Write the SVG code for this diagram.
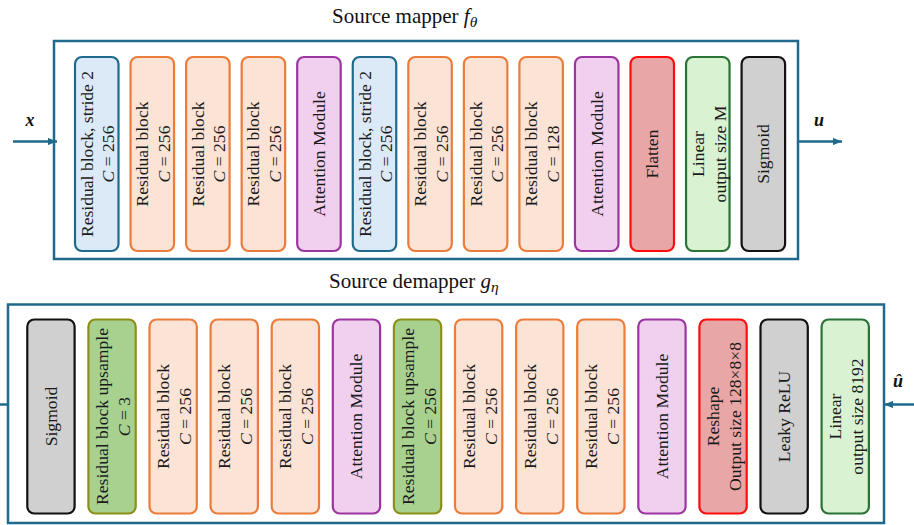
<svg xmlns="http://www.w3.org/2000/svg" width="914" height="525" viewBox="0 0 914 525">
<style>
.frame{fill:#fff;stroke:#1f6a8c;stroke-width:2.5}
.blk{stroke-width:2.2}
.blue{fill:#dce9f6;stroke:#1f6a8c}
.org{fill:#fbe3d5;stroke:#ec7c3a}
.pur{fill:#f1d0ef;stroke:#9c35a0}
.red{fill:#e8a6a6;stroke:#ff0d0d}
.lin{fill:#d9f2d1;stroke:#2a7236}
.gry{fill:#d0d0d0;stroke:#111}
.up{fill:#a8d190;stroke:#8e8f19}
.t{font-family:"Liberation Serif","Times New Roman",serif;font-size:17.6px;fill:#1a1a1a;text-anchor:middle}
.title{font-family:"Liberation Serif","Times New Roman",serif;font-size:21px;fill:#111}
.lab{font-family:"Liberation Serif","Times New Roman",serif;font-size:18px;font-weight:bold;font-style:italic;fill:#111;text-anchor:middle}
.i{font-style:italic}
.arr{stroke:#1f6a8c;stroke-width:2.5;fill:none}
</style>
<defs>
<marker id="ah" viewBox="0 0 10 8" refX="10" refY="4" markerWidth="9" markerHeight="7.5" markerUnits="userSpaceOnUse" orient="auto">
<path d="M0,0 L10,4 L0,8 z" fill="#1f6a8c"/>
</marker>
</defs>

<text class="title" x="332" y="22.5">Source mapper <tspan class="i">f</tspan><tspan class="i" font-size="15.5" dy="4">θ</tspan></text>
<text class="title" x="329" y="288">Source demapper <tspan class="i">g</tspan><tspan class="i" font-size="15.5" dy="4">η</tspan></text>

<g id="mapper">
<rect class="frame" x="54" y="41" width="744" height="218"/>
</g>
<g id="demapper">
<rect class="frame" x="8" y="304.5" width="876" height="218.5"/>
</g>

<g id="connectors">
<line class="arr" x1="13" y1="141.5" x2="57" y2="141.5" marker-end="url(#ah)"/>
<line class="arr" x1="798" y1="141.5" x2="842" y2="141.5" marker-end="url(#ah)"/>
<line class="arr" x1="914" y1="404.5" x2="884" y2="404.5" marker-end="url(#ah)"/>
<line class="arr" x1="9" y1="404.5" x2="0" y2="404.5"/>
</g>

<text class="lab" x="30" y="126">x</text>
<text class="lab" x="819" y="126">u</text>
<text class="lab" x="898" y="387">û</text>

<!-- top row -->
<g id="m1"><rect class="blk blue" x="75" y="57" width="43.5" height="194" rx="7"/>
<text class="t" transform="translate(96.75,154) rotate(-90)"><tspan x="0" y="-4">Residual block, stride 2</tspan><tspan x="0" y="17.5"><tspan class="i">C</tspan> = 256</tspan></text></g>
<g id="m2"><rect class="blk org" x="130.55" y="57" width="43.5" height="194" rx="7"/>
<text class="t" transform="translate(152.3,154) rotate(-90)"><tspan x="0" y="-4">Residual block</tspan><tspan x="0" y="17.5"><tspan class="i">C</tspan> = 256</tspan></text></g>
<g id="m3"><rect class="blk org" x="186.1" y="57" width="43.5" height="194" rx="7"/>
<text class="t" transform="translate(207.85,154) rotate(-90)"><tspan x="0" y="-4">Residual block</tspan><tspan x="0" y="17.5"><tspan class="i">C</tspan> = 256</tspan></text></g>
<g id="m4"><rect class="blk org" x="241.65" y="57" width="43.5" height="194" rx="7"/>
<text class="t" transform="translate(263.4,154) rotate(-90)"><tspan x="0" y="-4">Residual block</tspan><tspan x="0" y="17.5"><tspan class="i">C</tspan> = 256</tspan></text></g>
<g id="m5"><rect class="blk pur" x="297.2" y="57" width="43.5" height="194" rx="7"/>
<text class="t" transform="translate(318.95,154) rotate(-90)" y="6">Attention Module</text></g>
<g id="m6"><rect class="blk blue" x="352.75" y="57" width="43.5" height="194" rx="7"/>
<text class="t" transform="translate(374.5,154) rotate(-90)"><tspan x="0" y="-4">Residual block, stride 2</tspan><tspan x="0" y="17.5"><tspan class="i">C</tspan> = 256</tspan></text></g>
<g id="m7"><rect class="blk org" x="408.3" y="57" width="43.5" height="194" rx="7"/>
<text class="t" transform="translate(430.05,154) rotate(-90)"><tspan x="0" y="-4">Residual block</tspan><tspan x="0" y="17.5"><tspan class="i">C</tspan> = 256</tspan></text></g>
<g id="m8"><rect class="blk org" x="463.85" y="57" width="43.5" height="194" rx="7"/>
<text class="t" transform="translate(485.6,154) rotate(-90)"><tspan x="0" y="-4">Residual block</tspan><tspan x="0" y="17.5"><tspan class="i">C</tspan> = 256</tspan></text></g>
<g id="m9"><rect class="blk org" x="519.4" y="57" width="43.5" height="194" rx="7"/>
<text class="t" transform="translate(541.15,154) rotate(-90)"><tspan x="0" y="-4">Residual block</tspan><tspan x="0" y="17.5"><tspan class="i">C</tspan> = 128</tspan></text></g>
<g id="m10"><rect class="blk pur" x="574.95" y="57" width="43.5" height="194" rx="7"/>
<text class="t" transform="translate(596.7,154) rotate(-90)" y="6">Attention Module</text></g>
<g id="m11"><rect class="blk red" x="630.5" y="57" width="43.5" height="194" rx="7"/>
<text class="t" transform="translate(652.25,154) rotate(-90)" y="6">Flatten</text></g>
<g id="m12"><rect class="blk lin" x="686.05" y="57" width="43.5" height="194" rx="7"/>
<text class="t" transform="translate(707.8,154) rotate(-90)"><tspan x="0" y="-4">Linear</tspan><tspan x="0" y="18">output size M</tspan></text></g>
<g id="m13"><rect class="blk gry" x="741.6" y="57" width="43.5" height="194" rx="7"/>
<text class="t" transform="translate(763.35,154) rotate(-90)" y="6">Sigmoid</text></g>

<!-- bottom row -->
<g id="d1"><rect class="blk gry" x="27.3" y="319.5" width="47.3" height="194" rx="7"/>
<text class="t" transform="translate(50.95,416.5) rotate(-90)" y="6">Sigmoid</text></g>
<g id="d2"><rect class="blk up" x="88.4" y="319.5" width="47.3" height="194" rx="7"/>
<text class="t" transform="translate(112.05,416.5) rotate(-90)"><tspan x="0" y="-4">Residual block upsample</tspan><tspan x="0" y="18"><tspan class="i">C</tspan> = 3</tspan></text></g>
<g id="d3"><rect class="blk org" x="149.5" y="319.5" width="47.3" height="194" rx="7"/>
<text class="t" transform="translate(173.15,416.5) rotate(-90)"><tspan x="0" y="-4">Residual block</tspan><tspan x="0" y="18"><tspan class="i">C</tspan> = 256</tspan></text></g>
<g id="d4"><rect class="blk org" x="210.6" y="319.5" width="47.3" height="194" rx="7"/>
<text class="t" transform="translate(234.25,416.5) rotate(-90)"><tspan x="0" y="-4">Residual block</tspan><tspan x="0" y="18"><tspan class="i">C</tspan> = 256</tspan></text></g>
<g id="d5"><rect class="blk org" x="271.7" y="319.5" width="47.3" height="194" rx="7"/>
<text class="t" transform="translate(295.35,416.5) rotate(-90)"><tspan x="0" y="-4">Residual block</tspan><tspan x="0" y="18"><tspan class="i">C</tspan> = 256</tspan></text></g>
<g id="d6"><rect class="blk pur" x="332.8" y="319.5" width="47.3" height="194" rx="7"/>
<text class="t" transform="translate(356.45,416.5) rotate(-90)" y="6">Attention Module</text></g>
<g id="d7"><rect class="blk up" x="393.9" y="319.5" width="47.3" height="194" rx="7"/>
<text class="t" transform="translate(417.55,416.5) rotate(-90)"><tspan x="0" y="-4">Residual block upsample</tspan><tspan x="0" y="18"><tspan class="i">C</tspan> = 256</tspan></text></g>
<g id="d8"><rect class="blk org" x="455" y="319.5" width="47.3" height="194" rx="7"/>
<text class="t" transform="translate(478.65,416.5) rotate(-90)"><tspan x="0" y="-4">Residual block</tspan><tspan x="0" y="18"><tspan class="i">C</tspan> = 256</tspan></text></g>
<g id="d9"><rect class="blk org" x="516.1" y="319.5" width="47.3" height="194" rx="7"/>
<text class="t" transform="translate(539.75,416.5) rotate(-90)"><tspan x="0" y="-4">Residual block</tspan><tspan x="0" y="18"><tspan class="i">C</tspan> = 256</tspan></text></g>
<g id="d10"><rect class="blk org" x="577.2" y="319.5" width="47.3" height="194" rx="7"/>
<text class="t" transform="translate(600.85,416.5) rotate(-90)"><tspan x="0" y="-4">Residual block</tspan><tspan x="0" y="18"><tspan class="i">C</tspan> = 256</tspan></text></g>
<g id="d11"><rect class="blk pur" x="638.3" y="319.5" width="47.3" height="194" rx="7"/>
<text class="t" transform="translate(661.95,416.5) rotate(-90)" y="6">Attention Module</text></g>
<g id="d12"><rect class="blk red" x="699.4" y="319.5" width="47.3" height="194" rx="7"/>
<text class="t" transform="translate(723.05,416.5) rotate(-90)"><tspan x="0" y="-4">Reshape</tspan><tspan x="0" y="18">Output size 128×8×8</tspan></text></g>
<g id="d13"><rect class="blk gry" x="760.5" y="319.5" width="47.3" height="194" rx="7"/>
<text class="t" transform="translate(784.15,416.5) rotate(-90)" y="6">Leaky ReLU</text></g>
<g id="d14"><rect class="blk lin" x="821.6" y="319.5" width="47.3" height="194" rx="7"/>
<text class="t" transform="translate(845.25,416.5) rotate(-90)"><tspan x="0" y="-4">Linear</tspan><tspan x="0" y="18">output size 8192</tspan></text></g>
</svg>
